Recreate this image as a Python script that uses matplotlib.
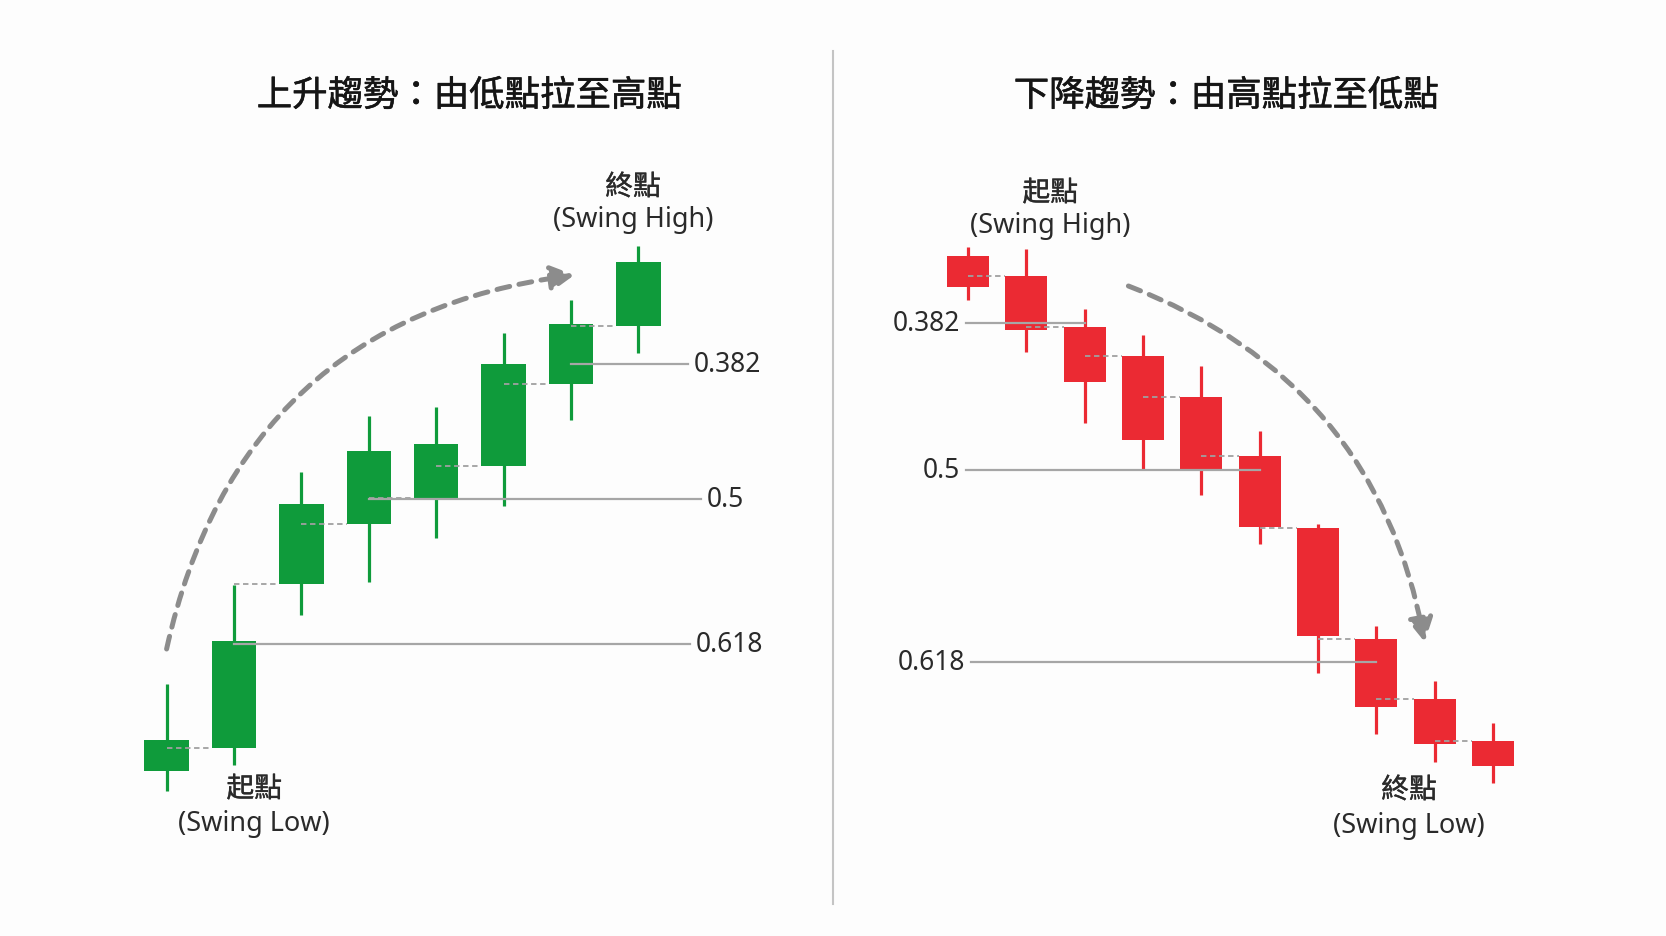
import matplotlib
matplotlib.use("Agg")
import matplotlib.pyplot as plt
import matplotlib.patheffects as pe
from matplotlib.patches import FancyArrowPatch
from matplotlib.lines import Line2D

plt.rcParams['font.family'] = ['Noto Sans', 'Noto Sans CJK TC', 'DejaVu Sans']

# ---------------- data ----------------
titles = ["上升趨勢：由低點拉至高點", "下降趨勢：由高點拉至低點"]
fib_labels = ["0.382", "0.5", "0.618"]

# uptrend candles (green)
up_open = [16.5, 18.8, 35.2, 41.2, 43.8, 47.0, 55.2, 61.0]
up_close = [19.6, 29.5, 43.2, 48.5, 49.2, 57.2, 61.2, 67.4]
up_high = [25.2, 35.1, 46.4, 52.0, 52.9, 60.3, 63.6, 69.0]
up_low = [14.5, 17.1, 32.1, 35.4, 39.8, 43.0, 51.6, 58.3]
up_fib_levels = [57.2, 43.7, 29.2]

# downtrend candles (red)
dn_open = [68.0, 66.0, 60.9, 58.0, 53.9, 48.0, 40.8, 29.7, 23.7, 19.5]
dn_close = [64.9, 60.6, 55.4, 49.6, 46.5, 40.9, 30.0, 22.9, 19.2, 17.0]
dn_high = [68.9, 68.7, 62.7, 60.1, 57.0, 50.5, 41.2, 31.0, 25.5, 21.3]
dn_low = [63.6, 58.4, 51.3, 46.7, 44.1, 39.2, 26.3, 20.2, 17.4, 15.3]
dn_fib_levels = [61.3, 46.6, 27.4]

swing_high_text = ["終點", "(Swing High)"]
swing_low_text = ["起點", "(Swing Low)"]
dn_swing_high_text = ["起點", "(Swing High)"]
dn_swing_low_text = ["終點", "(Swing Low)"]

# ---------------- style ----------------
W, H = 1666, 937
BG = '#fdfdfd'
GREEN = '#0f9b3b'
RED = '#eb2a33'
FIB_C = '#a6a6a6'
CONN_C = '#a0a0a0'
ARROW_C = '#8c8c8c'
TXT = '#2a2a2a'

fig = plt.figure(figsize=(W / 100, H / 100), dpi=100, facecolor=BG)


def make_axes(x0_px, step_px):
    ax = fig.add_axes([0, 0, 1, 1])
    ax.set_xlim(-x0_px / step_px, (W - x0_px) / step_px)
    ax.set_ylim(0, H / 10)
    ax.axis('off')
    ax.patch.set_alpha(0)
    return ax


ax_up = make_axes(166.6, 67.4)
ax_dn = make_axes(968, 58.33)


def draw_candles(ax, o, c, h, l, color, width):
    n = len(o)
    xs = list(range(n))
    bottoms = [min(a, b) for a, b in zip(o, c)]
    heights = [abs(b - a) for a, b in zip(o, c)]
    ax.vlines(xs, l, h, color=color, lw=2.3, zorder=2)
    ax.bar(xs, heights, bottom=bottoms, width=width, color=color,
           edgecolor='none', zorder=3)
    # connectors: from previous candle centre to next candle, at next open
    for i in range(1, n):
        ax.plot([i - 1, i - width / 2], [o[i], o[i]], color=CONN_C, lw=1.3,
                ls=(0, (3, 2)), zorder=4, solid_capstyle='butt')


draw_candles(ax_up, up_open, up_close, up_high, up_low, GREEN, 0.66)
draw_candles(ax_dn, dn_open, dn_close, dn_high, dn_low, RED, 0.72)

# ---- fib lines, uptrend (labels on the right) ----
up_line_start = [6, 3, 1]
up_line_end = [7.74, 7.93, 7.77]
for lvl, s, e, lab in zip(up_fib_levels, up_line_start, up_line_end, fib_labels):
    ax_up.plot([s, e], [lvl, lvl], color=FIB_C, lw=1.6, zorder=5)
    ax_up.text(e + 0.08, lvl, lab, ha='left', va='center', fontsize=19,
               color=TXT, zorder=6)

# ---- fib lines, downtrend (labels on the left) ----
dn_line_start = [-0.03, -0.03, 0.06]
dn_line_end = [2.0, 5.0, 7.0]
for lvl, s, e, lab in zip(dn_fib_levels, dn_line_start, dn_line_end, fib_labels):
    ax_dn.plot([s, e], [lvl, lvl], color=FIB_C, lw=1.6, zorder=5)
    ax_dn.text(s - 0.1, lvl, lab, ha='right', va='center', fontsize=19,
               color=TXT, zorder=6)


# ---- curved dashed arrows ----
def curved_arrow(ax, a, b, rad):
    arr = FancyArrowPatch(a, b, connectionstyle=f"arc3,rad={rad}",
                          arrowstyle="-|>,head_length=0.35,head_width=0.19",
                          mutation_scale=40, color=ARROW_C, lw=3.6,
                          linestyle=(0, (2.6, 1.9)), zorder=6,
                          shrinkA=0, shrinkB=0)
    ax.add_patch(arr)


curved_arrow(ax_up, (0.0, 28.7), (6.05, 66.1), -0.35)
curved_arrow(ax_dn, (2.75, 65.0), (7.83, 29.4), -0.28)

label_fx = [pe.withStroke(linewidth=0.25, foreground=TXT)]


# ---- swing labels ----
def two_line(ax, x, y1, y2, lines):
    ax.text(x, y1, lines[0], ha='center', va='center', fontsize=20,
            color=TXT, family=['Noto Sans CJK TC'], path_effects=label_fx)
    ax.text(x, y2, lines[1], ha='center', va='center', fontsize=19.5,
            color=TXT)


two_line(ax_up, 6.92, 74.9, 71.7, swing_high_text)
two_line(ax_up, 1.30, 14.7, 11.3, swing_low_text)
two_line(ax_dn, 1.41, 74.3, 71.1, dn_swing_high_text)
two_line(ax_dn, 7.56, 14.6, 11.1, dn_swing_low_text)

# ---- titles ----
for xc, t in zip([469, 1226], titles):
    fig.text(xc / W, 1 - 97 / H, t, ha='center', va='center',
             fontsize=25.5, color='#151515', family=['Noto Sans CJK TC'],
             path_effects=[pe.withStroke(linewidth=0.4, foreground='#151515')])

# ---- divider ----
fig.add_artist(Line2D([833 / W, 833 / W], [1 - 52 / H, 1 - 905 / H],
                      transform=fig.transFigure, color='#c4c4c4', lw=1.5))

fig.savefig('out.png', dpi=100, facecolor=BG)
